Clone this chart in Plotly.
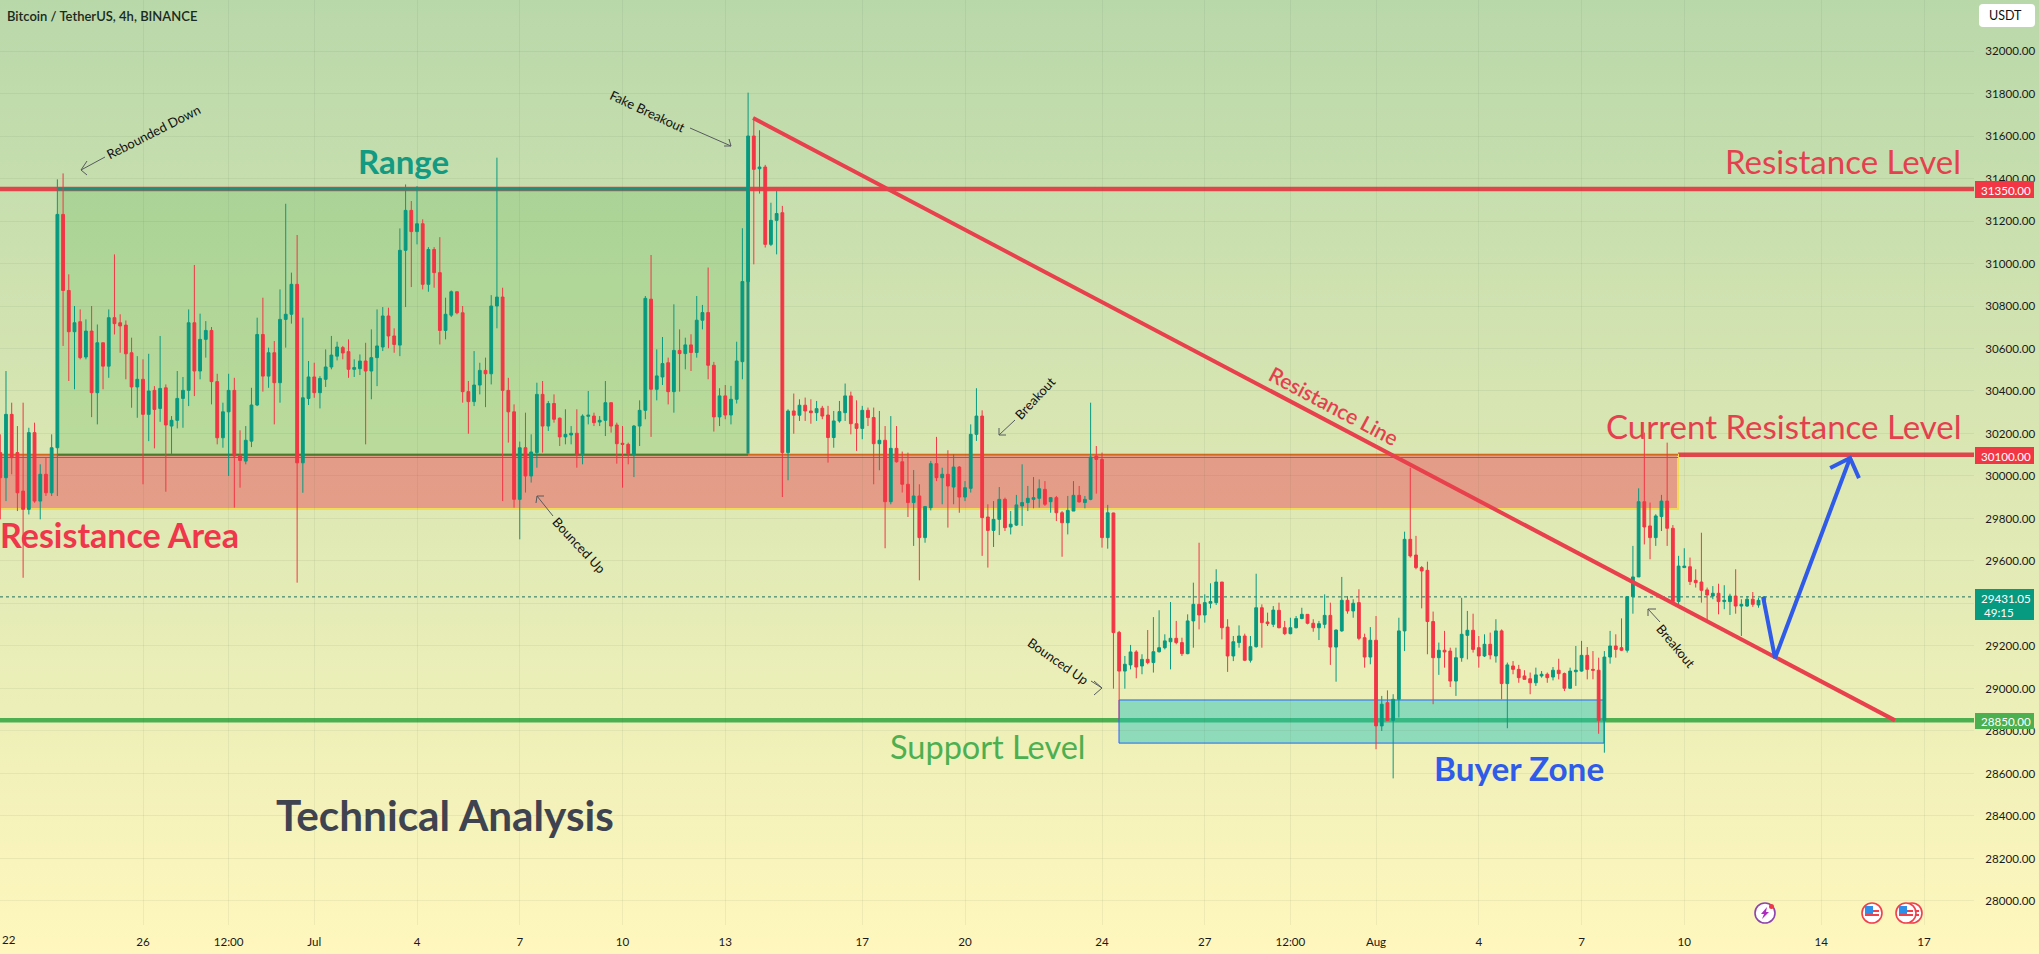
import base64
import pandas as pd
import plotly.graph_objects as go

W, H = 2039, 954
PLOT_RIGHT, PLOT_BOTTOM = 1974, 925
FONT = "Lato"
TICK_SIZE = 11.6
UP, DOWN = "#089981", "#f23645"
LINE_RED, GREEN, BLUE = "#e0454c", "#4caf50", "#2f5be8"

first_candle = "2023-06-21 20:00"
sides = "".join([
 "d",
 "u d d d u d u d u u",
 "d d u d u d u d u d",
 "d d d u d u d u d u",
 "u u u d u u d d u u",
 "d d u u u d u d u u",
 "u d u u d u u u u d",
 "d u u d u u u d d u",
 "u d u d u d d u u d",
 "d d u u d u u d d d",
 "u d u u d u d d u u",
 "d u u d u u d d d d",
 "u u u d u u d u d u",
 "d u u d d u d u u u",
 "u d u d u u d u d u",
 "d d u d d u u u d d",
 "u d d u d u d d d u",
 "d u u d u d u d u u",
 "u d d u u d u u u u",
 "u u d u d d u u d u",
 "u d d u d d u u d u",
 "d u u u u d d u u d",
 "u u u d d u u d u u",
 "d d u d d u u u d d",
 "u u d u u d u d d u",
 "d u d u u u d d d d",
 "d u d d u u u d d u",
 "d u d u d d d d u u",
 "d u d d u u u d d d",
 "u u d d u u u d d u",
 "u d d u u d d d d u",
 "d u u d u u d u u",
]).replace(" ", "")

highs = [30196,
 30494,30345,30235,30345,30227,30251,30055,30086,30196,31396,
 31424,30949,30800,30784,30737,30800,30713,30627,30784,31043,
 30761,30732,30651,30564,30549,30575,30423,30659,30431,30282,
 30494,30466,30784,30993,30764,30729,30701,30481,30345,30481,
 30462,30215,30235,30415,30745,30839,30604,30635,30878,31281,
 30957,31134,30745,30541,30533,30470,30596,30659,30632,30612,
 30643,30549,30572,30627,30690,30784,30795,30792,30695,31165,
 31372,31294,31364,31208,31077,31077,31124,30839,30873,30867,
 30800,30447,30588,30533,30557,30851,31498,30886,30462,30337,
 30162,30298,30196,30439,30447,30353,30384,30275,30314,30235,
 30314,30290,30400,30298,30282,30447,30345,30251,30235,30157,
 30240,30356,30847,31040,30596,30654,30557,30808,30690,30651,
 30667,30847,30805,30981,30537,30413,30428,30424,30632,31166,
 31804,31686,31627,31464,31286,31341,31271,30314,30388,30361,
 30369,30361,30353,30330,30330,30306,30353,30435,30397,30356,
 30330,30322,30322,30306,30235,30282,30235,30115,30110,30028,
 29961,29859,30071,30184,30039,30121,30102,30047,29976,30243,
 30413,30309,29867,29882,29948,29898,29835,29911,30055,29953,
 29995,29984,29976,29901,29906,29835,29906,29976,29953,29906,
 30345,30141,30110,29864,29827,29271,29153,29205,29180,29161,
 29275,29336,29368,29255,29407,29318,29239,29349,29498,29686,
 29443,29495,29561,29501,29326,29247,29297,29258,29247,29540,
 29396,29357,29388,29404,29318,29333,29341,29380,29349,29326,
 29318,29443,29404,29278,29525,29435,29420,29467,29258,29289,
 29341,28965,28991,28973,29333,29738,30039,29718,29576,29597,
 29362,29216,29271,29192,29192,29427,29365,29352,29247,29255,
 29263,29326,29278,29122,29129,29111,29086,29075,29098,29082,
 29075,29101,29140,29075,29098,29200,29224,29195,29176,29145,
 29176,29271,29255,29330,29435,29671,29942,30204,29875,29820,
 29911,30157,29769,29624,29660,29616,29561,29733,29475,29482,
 29493,29486,29446,29561,29420,29435,29454,29427,29435]

body_tops = [30110,
 30290,30290,30110,29929,30204,30204,30008,30008,30133,31231,
 31231,30873,30721,30726,30682,30682,30627,30627,30745,30745,
 30721,30710,30580,30455,30455,30400,30403,30412,30415,30262,
 30365,30403,30721,30721,30643,30685,30685,30444,30302,30403,
 30403,30094,30168,30334,30666,30666,30580,30580,30737,30761,
 30902,30902,30368,30466,30466,30459,30513,30569,30607,30604,
 30585,30510,30541,30541,30557,30612,30753,30753,30659,31062,
 31250,31250,31187,31187,31066,31066,30957,30761,30867,30867,
 30768,30397,30428,30497,30497,30800,30842,30842,30403,30302,
 30133,30133,30113,30384,30384,30341,30341,30272,30196,30201,
 30201,30282,30286,30282,30262,30345,30345,30240,30154,30149,
 30235,30309,30836,30832,30471,30529,30533,30591,30591,30617,
 30617,30733,30769,30769,30521,30377,30377,30361,30541,30915,
 31600,31600,31454,31454,31203,31235,31239,30306,30306,30333,
 30333,30306,30317,30319,30287,30259,30303,30377,30377,30246,
 30309,30309,30275,30168,30168,30130,30130,30067,29961,29906,
 29906,29856,30058,30058,30008,30008,30042,30042,29945,30196,
 30282,30282,29807,29796,29890,29890,29773,29864,29875,29895,
 29898,29940,29937,29898,29898,29827,29838,29909,29909,29890,
 30089,30094,30078,29827,29826,29264,29114,29172,29172,29137,
 29137,29173,29192,29224,29236,29236,29216,29318,29396,29396,
 29404,29409,29501,29501,29289,29220,29247,29247,29197,29380,
 29380,29313,29369,29368,29286,29286,29329,29349,29349,29307,
 29305,29344,29344,29275,29415,29415,29401,29404,29239,29227,
 29227,28926,28933,28949,29271,29702,29702,29628,29569,29556,
 29315,29180,29180,29176,29145,29255,29274,29274,29192,29208,
 29208,29271,29271,29111,29106,29090,29059,29046,29064,29067,
 29067,29086,29086,29070,29082,29086,29156,29156,29090,29086,
 29148,29200,29200,29192,29432,29525,29879,29879,29765,29812,
 29882,29882,29754,29576,29576,29573,29509,29501,29464,29448,
 29448,29415,29435,29435,29396,29420,29420,29415,29431]

body_bottoms = [29992,
 29992,30086,29921,29843,29843,29882,29882,29921,29921,30133,
 30873,30679,30679,30557,30560,30392,30392,30517,30517,30717,
 30706,30575,30419,30419,30290,30290,30313,30318,30240,30235,
 30262,30365,30403,30494,30494,30643,30444,30180,30180,30302,
 30094,30073,30070,30164,30334,30470,30470,30439,30439,30737,
 30761,30062,30062,30365,30392,30392,30455,30513,30564,30579,
 30502,30502,30505,30494,30494,30557,30607,30659,30619,30616,
 31062,31150,31150,30902,30902,30957,30685,30685,30757,30768,
 30397,30350,30350,30428,30481,30481,30800,30403,30302,29890,
 29890,30000,30000,30110,30235,30235,30267,30184,30184,30193,
 30102,30102,30281,30251,30254,30262,30235,30152,30149,30105,
 30102,30235,30309,30408,30408,30466,30397,30397,30576,30576,
 30581,30581,30733,30521,30278,30278,30287,30287,30361,30538,
 30915,31443,31446,31090,31090,31203,30110,30110,30286,30286,
 30306,30298,30298,30282,30181,30181,30259,30298,30246,30224,
 30224,30275,30152,30152,29879,29879,30067,29961,29875,29875,
 29710,29710,29851,29992,29992,29953,29948,29901,29901,29942,
 30196,29804,29744,29744,29796,29757,29760,29769,29859,29875,
 29890,29895,29867,29879,29827,29780,29780,29835,29878,29875,
 29890,30078,29710,29710,29263,29082,29082,29111,29101,29106,
 29122,29122,29173,29192,29220,29216,29164,29164,29318,29346,
 29346,29401,29404,29286,29153,29153,29216,29133,29133,29197,
 29310,29305,29302,29286,29258,29258,29286,29329,29307,29286,
 29286,29302,29195,29195,29271,29365,29365,29236,29148,29148,
 28824,28824,28850,28850,28949,29271,29624,29569,29553,29315,
 29145,29145,29172,29035,29035,29145,29250,29184,29153,29153,
 29158,29153,29023,29023,29090,29051,29043,29027,29027,29059,
 29051,29054,29070,29001,29001,29079,29082,29090,29086,28850,
 28850,29148,29184,29180,29180,29432,29525,29760,29710,29710,
 29809,29754,29409,29409,29569,29503,29498,29462,29440,29435,
 29409,29409,29409,29388,29388,29388,29396,29393,29415]

lows = [29796,
 29882,30008,29835,29521,29819,29874,29796,29906,29906,29906,
 30612,30447,30408,30549,30549,30277,30243,30408,30462,30666,
 30580,30455,30321,30274,29961,30164,30130,30255,29926,30102,
 30224,30227,30329,30376,30455,30557,30337,30149,30133,30000,
 29851,29945,30055,30136,30329,30397,30415,30243,30345,30604,
 30717,29498,29921,30334,30368,30318,30419,30502,30544,30549,
 30462,30466,30475,30149,30361,30423,30588,30601,30580,30564,
 30795,30889,31090,30878,30867,30886,30619,30643,30748,30761,
 30345,30199,30329,30384,30324,30431,30695,29882,30157,29851,
 29702,29922,29969,30039,30110,30212,30251,30141,30149,30149,
 30039,30055,30243,30235,30235,30188,30204,30058,29945,30055,
 29995,30141,30267,30184,30356,30428,30337,30298,30397,30502,
 30494,30557,30690,30455,30209,30235,30267,30243,30341,30455,
 30902,30996,31329,31075,31082,31043,29901,29980,30199,30259,
 30259,30246,30259,30267,30063,30133,30251,30259,30196,30118,
 30173,30235,29961,30027,29660,29867,30063,29922,29807,29671,
 29509,29686,29838,29976,29867,29757,29867,29827,29882,29922,
 30165,29624,29569,29666,29722,29741,29725,29765,29765,29835,
 29848,29851,29859,29827,29788,29620,29725,29835,29875,29848,
 29886,29917,29663,29658,28999,28855,28999,29090,29048,29067,
 29114,29075,29169,29184,29090,29208,29153,29161,29192,29278,
 29310,29377,29393,29231,29078,29129,29192,29129,29122,29192,
 29192,29294,29289,29283,29252,29255,29283,29326,29302,29267,
 29228,29283,29111,29032,29267,29352,29333,29227,29098,29114,
 28714,28800,28847,28577,28863,29176,29616,29561,29377,29161,
 28926,29064,29098,29007,28965,29126,29137,29169,29098,29148,
 29137,29122,28949,28813,29067,29027,29043,28973,29012,29051,
 29027,29038,29043,28988,29000,29012,29079,29043,29043,28787,
 28698,29117,29145,29176,29169,29352,29525,29678,29608,29671,
 29741,29671,29396,29380,29569,29487,29475,29404,29310,29420,
 29349,29373,29346,29352,29247,29384,29384,29380,29415]

resistance_top, resistance_mid, support = 31350, 30100, 28850
resistance_area_low = 29845
buyer_zone_top, buyer_zone_low = 28946, 28743
last_price = 29431.05

y_ticks = list(range(28000, 32001, 200))
y_tick_labels = ["" if v == 29400 else f"{v}.00" for v in y_ticks]
x_tick_dates = ["2023-06-26", "2023-06-28 12:00", "2023-07-01", "2023-07-04", "2023-07-07",
                "2023-07-10", "2023-07-13", "2023-07-17", "2023-07-20", "2023-07-24", "2023-07-27",
                "2023-07-29 12:00", "2023-08-01", "2023-08-04", "2023-08-07", "2023-08-10", "2023-08-14", "2023-08-17"]
x_tick_labels = ["26", "12:00", "Jul", "4", "7", "10", "13", "17", "20", "24", "27", "12:00", "Aug", "4", "7", "10", "14", "17"]
first_tick_date, first_tick_label = "2023-06-22 02:00", "22"

trend_dates = ["2023-07-13 19:30", "2023-08-16 03:40"]
trend_prices = [31685, 28850]
move_dates = ["2023-08-12 07:12", "2023-08-12 15:36", "2023-08-14 20:10"]
move_prices = [29431, 29143, 30085]
head_dates = ["2023-08-14 06:14", "2023-08-14 20:10", "2023-08-15 02:24"]
head_prices = [30038, 30085, 29990]

times = pd.date_range(first_candle, periods=len(highs), freq="4h")
opens = [b if s == "u" else t for s, t, b in zip(sides, body_tops, body_bottoms)]
closes = [t if s == "u" else b for s, t, b in zip(sides, body_tops, body_bottoms)]
assert len(sides) == len(highs) == len(lows) == len(body_tops) == len(body_bottoms)


def px(x):
    return x / W


def py(y):
    return 1 - y / H


fig = go.Figure()
fig.add_trace(go.Candlestick(
    x=times, open=opens, high=highs, low=lows, close=closes,
    increasing=dict(line=dict(color=UP, width=1), fillcolor=UP),
    decreasing=dict(line=dict(color=DOWN, width=1), fillcolor=DOWN),
    whiskerwidth=0, showlegend=False, hoverinfo="skip",
))
fig.add_trace(go.Scatter(x=trend_dates, y=trend_prices, mode="lines",
                         line=dict(color="#e8404c", width=4), showlegend=False, hoverinfo="skip"))
fig.add_trace(go.Scatter(x=move_dates, y=move_prices, mode="lines",
                         line=dict(color=BLUE, width=4), showlegend=False, hoverinfo="skip"))
fig.add_trace(go.Scatter(x=head_dates, y=head_prices, mode="lines",
                         line=dict(color=BLUE, width=4), showlegend=False, hoverinfo="skip"))

shapes = []
annotations = []


def hline(price, x0, x1, color, width, layer="below", dash=None):
    shapes.append(dict(type="line", xref="paper", yref="y", x0=px(x0), x1=px(x1), y0=price, y1=price,
                       line=dict(color=color, width=width, dash=dash), layer=layer))


def vline(x, p0, p1, color, width, layer="below"):
    shapes.append(dict(type="line", xref="paper", yref="y", x0=px(x), x1=px(x), y0=p0, y1=p1,
                       line=dict(color=color, width=width), layer=layer))


def box(x0, x1, p0, p1, fill, color="rgba(0,0,0,0)", width=0, layer="below"):
    shapes.append(dict(type="rect", xref="paper", yref="y", x0=px(x0), x1=px(x1), y0=p0, y1=p1,
                       fillcolor=fill, line=dict(color=color, width=width), layer=layer))


def pbox(x0, y0, x1, y1, fill, color="rgba(0,0,0,0)", width=0, kind="rect"):
    shapes.append(dict(type=kind, xref="paper", yref="paper", x0=px(x0), x1=px(x1), y0=py(y0), y1=py(y1),
                       fillcolor=fill, line=dict(color=color, width=width), layer="above"))


def seg(x0, y0, x1, y1, color="#555b5e", width=1):
    shapes.append(dict(type="line", xref="paper", yref="paper", x0=px(x0), x1=px(x1), y0=py(y0), y1=py(y1),
                       line=dict(color=color, width=width), layer="above"))


def label(x, y, text, size, color, weight=400, angle=0, anchor="center", font=FONT):
    annotations.append(dict(xref="paper", yref="paper", x=px(x), y=py(y), text=text, showarrow=False,
                            xanchor=anchor, yanchor="middle", textangle=angle,
                            font=dict(family=font, size=size, color=color, weight=weight)))


# Level lines and zones
hline(resistance_top, 0, PLOT_RIGHT, LINE_RED, 4.5)
hline(resistance_mid, 1678, PLOT_RIGHT, LINE_RED, 4.5)
hline(support, 0, PLOT_RIGHT, GREEN, 4.5)
box(58, 748, resistance_top, resistance_mid, "rgba(60,170,60,0.2)")
hline(resistance_top, 58, 748, "#1f8f7a", 3)
vline(748, resistance_top, resistance_mid, "#1f8f7a", 3)
box(0, 1678, resistance_mid, resistance_area_low, "rgba(233,82,91,0.5)", "#f3dc55", 2)
hline(resistance_mid, 0, 1678, "#cf6a1e", 2)
hline(resistance_mid, 58, 748, "#4f7a2e", 2)
hline(resistance_mid - 13, 0, 1678, "#f23645", 1)
box(1119, 1604, buyer_zone_top, buyer_zone_low, "rgba(34,195,190,0.47)", "#2962ff", 1)
hline(last_price, 0, PLOT_RIGHT, "#1f6f5f", 1, dash="dot")

# Small pointers
for (x0, y0, x1, y1) in [(105, 157, 81, 170), (690, 128, 731, 146), (553, 516, 537, 496),
                         (1015, 420, 999, 435), (1091, 681, 1102, 688), (1660, 622, 1648, 609)]:
    seg(x0, y0, x1, y1)
for (x0, y0, x1, y1) in [(87, 161, 81, 170), (87, 175, 81, 170), (724, 146, 731, 146), (729, 139, 731, 146),
                         (536, 503, 537, 496), (544, 496, 537, 496), (999, 428, 999, 435), (1006, 435, 999, 435),
                         (1094, 681, 1102, 688), (1094, 695, 1102, 688), (1648, 616, 1648, 609), (1656, 609, 1648, 609)]:
    seg(x0, y0, x1, y1)

# Text on the chart
label(5, 16, "Bitcoin / TetherUS, 4h, BINANCE", 13, "#1a2a20", 600, anchor="left")
label(403, 160.5, "Range", 33, "#129a82", 700)
label(1962.5, 160.5, "Resistance Level", 33, "#e5404e", anchor="right")
label(1963.5, 426, "Current Resistance Level", 33, "#e5404e", anchor="right")
label(-2, 534, "Resistance Area", 34, "#f0364a", 700, anchor="left")
label(988, 746, "Support Level", 32.5, GREEN)
label(1518.5, 767.5, "Buyer Zone", 33.3, "#2f5be8", 700)
label(445, 814, "Technical Analysis", 42.3, "#3f4350", 700)
label(1334, 405, "Resistance Line", 21, "#e5404e", 600, angle=28)
label(153, 132, "Rebounded Down", 13, "#111", angle=-27)
label(647, 111, "Fake Breakout", 13, "#111", angle=25)
label(579, 545, "Bounced Up", 13, "#111", angle=47)
label(1035, 398, "Breakout", 13, "#111", angle=-47)
label(1058, 661, "Bounced Up", 13, "#111", angle=35)
label(1676, 646, "Breakout", 13, "#111", angle=50)
annotations.append(dict(xref="x", yref="paper", x=first_tick_date, y=py(939), text=first_tick_label, showarrow=False,
                        xanchor="center", yanchor="middle", font=dict(family=FONT, size=TICK_SIZE, color="#1a1a1a")))

# Price tags
pbox(1975, 181, 2034, 198, DOWN)
label(2006, 190, f"{resistance_top}.00", TICK_SIZE, "white")
pbox(1975, 447, 2034, 464, DOWN)
label(2006, 456, f"{resistance_mid}.00", TICK_SIZE, "white")
pbox(1975, 713, 2034, 729, GREEN)
label(2006, 721, f"{support}.00", TICK_SIZE, "white")
pbox(1975, 589, 2034, 620, UP)
label(2006, 598, f"{last_price:.2f}", TICK_SIZE, "white")
label(1982, 612, "49:15", TICK_SIZE, "white", anchor="left")
shapes.append(dict(type="path", xref="paper", yref="paper", fillcolor="white", line=dict(width=0), layer="above",
                   path="M {} {} L {} {} Q {} {} {} {} L {} {} Q {} {} {} {} L {} {} Q {} {} {} {} L {} {} Q {} {} {} {} Z".format(
                       px(1983), py(4), px(2031), py(4), px(2035), py(4), px(2035), py(8), px(2035), py(23), px(2035), py(27),
                       px(2031), py(27), px(1983), py(27), px(1979), py(27), px(1979), py(23), px(1979), py(8), px(1979), py(4), px(1983), py(4))))
label(1987, 16, "USDT", 12.5, "#111", anchor="left")


# Event icons
def flag(cx, cy=913):
    pbox(cx - 10, cy - 10, cx + 10, cy + 10, "white", "#f0404c", 1.6, "circle")
    pbox(cx - 7, cy - 7, cx + 1, cy + 1, "#2f8fe8")
    pbox(cx - 7, cy + 1, cx + 7, cy + 3, "#f0404c")
    pbox(cx + 1, cy - 3, cx + 7, cy - 1, "#f0404c")


flag(1912)
flag(1872)
flag(1906)
pbox(1755, 903, 1775, 923, "white", "#8e44ad", 1.6, "circle")
shapes.append(dict(type="path", xref="paper", yref="paper", fillcolor="#b02cc0", line=dict(width=0), layer="above",
                   path=f"M {px(1767)} {py(907)} L {px(1761)} {py(914)} L {px(1764)} {py(914)} L {px(1762)} {py(919)} L {px(1769)} {py(912)} L {px(1766)} {py(912)} Z"))
pbox(1769, 904, 1774, 909, "#f23645", kind="circle")

svg = f"""<svg xmlns='http://www.w3.org/2000/svg' width='{W}' height='{H}' preserveAspectRatio='none'>
<defs><linearGradient id='g' x1='0' y1='0' x2='0' y2='1'><stop offset='0' stop-color='#b9d8aa'/><stop offset='1' stop-color='#fff7bd'/></linearGradient></defs>
<rect width='{W}' height='{H}' fill='url(#g)'/></svg>"""
bg = "data:image/svg+xml;base64," + base64.b64encode(svg.encode()).decode()

fig.update_layout(
    width=W, height=H, margin=dict(l=0, r=0, t=0, b=0), showlegend=False,
    paper_bgcolor="#dfe9b5", plot_bgcolor="rgba(0,0,0,0)",
    shapes=shapes, annotations=annotations, hovermode=False, dragmode=False,
    images=[dict(source=bg, xref="paper", yref="paper", x=0, y=1, sizex=1, sizey=1,
                 sizing="stretch", xanchor="left", yanchor="top", layer="below")],
    xaxis=dict(type="date", domain=[0, PLOT_RIGHT / W], range=["2023-06-21 19:48", "2023-08-18 11:00"],
               rangeslider=dict(visible=False), tickmode="array", tickvals=x_tick_dates, ticktext=x_tick_labels,
               tickangle=0, showgrid=True, gridcolor="rgba(60,80,60,0.07)", gridwidth=1, zeroline=False,
               showline=False, ticks="outside", ticklen=6, tickcolor="rgba(0,0,0,0)",
               tickfont=dict(family=FONT, size=TICK_SIZE, color="#1a1a1a")),
    yaxis=dict(domain=[1 - PLOT_BOTTOM / H, 1], range=[27887, 32240], side="right", tickmode="array",
               tickvals=y_ticks, ticktext=y_tick_labels, showgrid=True,
               gridcolor="rgba(60,80,60,0.07)", gridwidth=1, zeroline=False, showline=False, ticks="outside",
               ticklen=8, tickcolor="rgba(0,0,0,0)", tickfont=dict(family=FONT, size=TICK_SIZE, color="#1a1a1a")),
)

fig.write_html("out.html", config=dict(displayModeBar=False),
               post_script="document.body.style.margin='0';")
